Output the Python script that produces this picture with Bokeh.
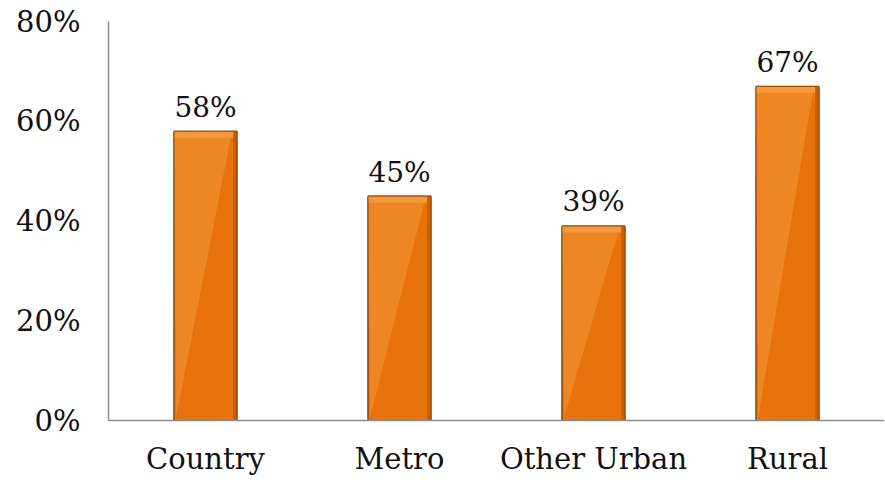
from bokeh.plotting import figure
from bokeh.models import Range1d, FixedTicker, ColumnDataSource
from bokeh.embed import file_html
from bokeh.resources import INLINE
from bokeh.core.properties import value

categories = ["Country", "Metro", "Other Urban", "Rural"]
shares = [58, 45, 39, 67]
y_ticks = [0, 20, 40, 60, 80]
y_tick_labels = ["0%", "20%", "40%", "60%", "80%"]

FONT = "DejaVu Serif"
xs = list(range(len(categories)))
bar_w = 0.325

p = figure(width=884, height=482, output_backend="svg", toolbar_location=None,
           x_range=Range1d(-0.5, len(categories) - 0.5), y_range=Range1d(0, 80),
           min_border_left=108, min_border_right=0, min_border_top=21, min_border_bottom=62)
p.outline_line_color = None
p.xgrid.grid_line_color = None
p.ygrid.grid_line_color = None
p.background_fill_color = "white"
p.border_fill_color = "white"

src = ColumnDataSource(dict(x=xs, top=shares, lab=[f"{v}%" for v in shares],
                            bevel=[v - 1.3 for v in shares]))
# base bar
p.vbar(x="x", top="top", bottom=0, width=bar_w, source=src,
       fill_color="#E8730C", line_color="#8A4708", line_width=1)
# lighter diagonal sheen (left part)
sheen_xs = [[x - bar_w / 2, x + bar_w * 0.42, x - bar_w / 2 + 0.01] for x in xs]
sheen_ys = [[v, v, 0.5] for v in shares]
p.patches(sheen_xs, sheen_ys, fill_color="#EE8A2C", line_color=None, fill_alpha=0.85)
# top bevel
p.vbar(x="x", top="top", bottom="bevel", width=bar_w, source=src,
       fill_color="#F39A3E", line_color=None)
# right shadow edge
p.vbar(x=[x + bar_w / 2 - 0.01 for x in xs], top=shares, bottom=0, width=0.02,
       fill_color="#C85F06", line_color=None)
# outline on top
p.vbar(x="x", top="top", bottom=0, width=bar_w, source=src,
       fill_color=None, line_color="#8A4708", line_width=1)

p.text(x="x", y="top", text="lab", source=src, text_align="center",
       text_baseline="alphabetic", y_offset=-24, text_font=value(FONT),
       text_font_size="28px", text_color="#111111")

p.xaxis.ticker = FixedTicker(ticks=xs)
p.xaxis.major_label_overrides = {i: c for i, c in enumerate(categories)}
p.yaxis.ticker = FixedTicker(ticks=y_ticks)
p.yaxis.major_label_overrides = {t: l for t, l in zip(y_ticks, y_tick_labels)}

for ax in (p.xaxis, p.yaxis):
    ax.major_tick_line_color = None
    ax.minor_tick_line_color = None
    ax.axis_line_color = "#8C8C8C"
    ax.axis_line_width = 1.5
    ax.major_label_text_font = FONT
    ax.major_label_text_font_size = "29px"
    ax.major_label_text_color = "#111111"
p.yaxis.major_label_standoff = 22
p.xaxis.major_label_standoff = 15

open("out.html", "w").write(file_html(p, INLINE))
